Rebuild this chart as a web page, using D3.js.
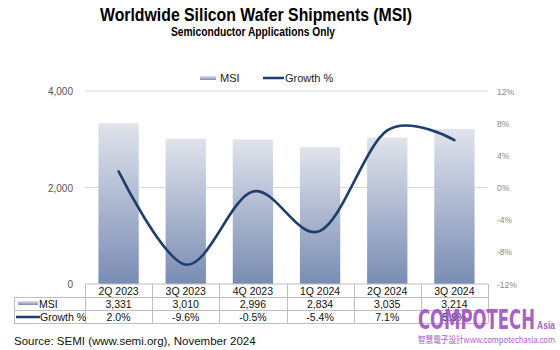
<!DOCTYPE html>
<html><head><meta charset="utf-8">
<script src="https://cdn.jsdelivr.net/npm/d3@7"></script>
<style>body{margin:0;background:#fff}svg{display:block}</style>
</head><body>
<script>
const categories = ["2Q 2023","3Q 2023","4Q 2023","1Q 2024","2Q 2024","3Q 2024"];
const msi = [3331, 3010, 2996, 2834, 3035, 3214];
const growth = [2.0, -9.6, -0.5, -5.4, 7.1, 5.9];
const msiLabels = ["3,331","3,010","2,996","2,834","3,035","3,214"];
const growthLabels = ["2.0%","-9.6%","-0.5%","-5.4%","7.1%","5.9%"];
const leftTicks = [0, 2000, 4000];
const rightTicks = [-12, -8, -4, 0, 4, 8, 12];

const W = 560, H = 350;
const svg = d3.select("body").append("svg").attr("width", W).attr("height", H);
const font = "Arial, 'Liberation Sans', sans-serif";

const x = d3.scaleBand().domain(categories).range([85, 488]).paddingInner(0.4).paddingOuter(0.2);
const xb = d3.scaleBand().domain(categories).range([85, 488]);
const yL = d3.scaleLinear().domain([0, 4000]).range([284, 91]);
const yR = d3.scaleLinear().domain([-12, 12]).range([284, 91]);

// gradient
const defs = svg.append("defs");
const g = defs.append("linearGradient").attr("id","barGrad").attr("x1",0).attr("y1",0).attr("x2",0).attr("y2",1);
g.append("stop").attr("offset","0%").attr("stop-color","#e0e3eb");
g.append("stop").attr("offset","100%").attr("stop-color","#798cb4");

// title
svg.append("text").attr("x",256).attr("y",21).attr("text-anchor","middle")
  .attr("font-family",font).attr("font-weight","bold").attr("font-size",18.5).attr("fill","#000")
  .attr("textLength",312).attr("lengthAdjust","spacingAndGlyphs")
  .text("Worldwide Silicon Wafer Shipments (MSI)");
svg.append("text").attr("x",253).attr("y",36).attr("text-anchor","middle")
  .attr("font-family",font).attr("font-weight","bold").attr("font-size",12).attr("fill","#000")
  .attr("textLength",164).attr("lengthAdjust","spacingAndGlyphs")
  .text("Semiconductor Applications Only");

// legend
svg.append("rect").attr("x",200).attr("y",76).attr("width",16).attr("height",4).attr("fill","url(#barGrad)");
svg.append("text").attr("x",220).attr("y",82).attr("font-family",font).attr("font-size",11).attr("fill","#222").text("MSI");
svg.append("line").attr("x1",263).attr("x2",284).attr("y1",78).attr("y2",78).attr("stroke","#1f3d6d").attr("stroke-width",2.5);
svg.append("text").attr("x",285).attr("y",82).attr("font-family",font).attr("font-size",11).attr("fill","#222").text("Growth %");

// gridlines
svg.append("g").selectAll("line").data(leftTicks.filter(d=>d>0)).join("line")
  .attr("x1",85).attr("x2",488).attr("y1",d=>yL(d)).attr("y2",d=>yL(d))
  .attr("stroke","#d9d9d9").attr("stroke-width",1);

// left axis labels
svg.append("g").selectAll("text").data(leftTicks).join("text")
  .attr("x",73).attr("y",d=>yL(d)+4).attr("text-anchor","end")
  .attr("font-family",font).attr("font-size",10).attr("fill","#555")
  .text(d=>d3.format(",")(d));
// right axis labels
svg.append("g").selectAll("text").data(rightTicks).join("text")
  .attr("x",497).attr("y",d=>yR(d)+3.5).attr("text-anchor","start")
  .attr("font-family",font).attr("font-size",8.5).attr("fill","#888")
  .text(d=>d+"%");

// bars
svg.append("g").selectAll("rect").data(msi).join("rect")
  .attr("x",(d,i)=>x(categories[i])).attr("width",x.bandwidth())
  .attr("y",d=>yL(d)).attr("height",d=>yL(0)-yL(d))
  .attr("fill","url(#barGrad)");

// growth line
const line = d3.line().x((d,i)=>xb(categories[i])+xb.bandwidth()/2).y(d=>yR(d)).curve(d3.curveCardinal.tension(0));
svg.append("path").datum(growth).attr("d",line).attr("fill","none")
  .attr("stroke","#1f3d6d").attr("stroke-width",2.6).attr("stroke-linecap","round");

// table
const tb = svg.append("g");
const rowY = [284, 297, 310, 323];
const gridC = "#bfbfbf";
tb.append("line").attr("x1",85).attr("x2",488).attr("y1",rowY[0]).attr("y2",rowY[0]).attr("stroke",gridC);
[1,2,3].forEach(r=>tb.append("line").attr("x1",14).attr("x2",488).attr("y1",rowY[r]+0.5).attr("y2",rowY[r]+0.5).attr("stroke",gridC));
tb.append("line").attr("x1",14.5).attr("x2",14.5).attr("y1",rowY[1]).attr("y2",rowY[3]).attr("stroke",gridC);
categories.forEach((c,i)=>{
  const xx = Math.round(xb(c))+0.5;
  tb.append("line").attr("x1",xx).attr("x2",xx).attr("y1",rowY[0]).attr("y2",rowY[3]).attr("stroke",gridC);
});
tb.append("line").attr("x1",488.5).attr("x2",488.5).attr("y1",rowY[0]).attr("y2",rowY[3]).attr("stroke",gridC);
const cx = c => xb(c)+xb.bandwidth()/2;
tb.selectAll(".h").data(categories).join("text").attr("x",d=>cx(d)).attr("y",295)
  .attr("text-anchor","middle").attr("font-family",font).attr("font-size",10.5).attr("fill","#111").text(d=>d);
tb.selectAll(".m").data(msiLabels).join("text").attr("x",(d,i)=>cx(categories[i])).attr("y",308)
  .attr("text-anchor","middle").attr("font-family",font).attr("font-size",10.5).attr("fill","#111").text(d=>d);
tb.selectAll(".g").data(growthLabels).join("text").attr("x",(d,i)=>cx(categories[i])).attr("y",321)
  .attr("text-anchor","middle").attr("font-family",font).attr("font-size",10.5).attr("fill","#111").text(d=>d);
tb.append("rect").attr("x",18).attr("y",301).attr("width",20).attr("height",4).attr("fill","url(#barGrad)");
tb.append("text").attr("x",39).attr("y",308).attr("font-family",font).attr("font-size",10.5).attr("fill","#111").text("MSI");
tb.append("line").attr("x1",16).attr("x2",40).attr("y1",317).attr("y2",317).attr("stroke","#1f3d6d").attr("stroke-width",2.5);
tb.append("text").attr("x",40).attr("y",321).attr("font-family",font).attr("font-size",10.5).attr("fill","#111").text("Growth %");

// source
svg.append("text").attr("x",14).attr("y",345).attr("font-family",font).attr("font-size",11.5).attr("fill","#111")
  .text("Source: SEMI (www.semi.org), November 2024");

// watermark
const wm = svg.append("g").attr("opacity",0.9);
wm.append("text").attr("x",418).attr("y",329).attr("font-family","'Liberation Sans Narrow','DejaVu Sans Condensed',Arial,sans-serif")
  .attr("font-weight","bold").attr("font-size",26).attr("fill","#a24fc4")
  .attr("textLength",117).attr("lengthAdjust","spacingAndGlyphs").text("COMPOTECH");
wm.append("text").attr("x",537).attr("y",329).attr("font-family","'Liberation Sans Narrow',Arial,sans-serif")
  .attr("font-weight","bold").attr("font-size",10).attr("fill","#a24fc4")
  .attr("textLength",18).attr("lengthAdjust","spacingAndGlyphs").text("Asia");
wm.append("text").attr("x",418).attr("y",343).attr("font-family","'Noto Sans CJK TC',sans-serif")
  .attr("font-size",9).attr("fill","#a24fc4")
  .attr("textLength",137).attr("lengthAdjust","spacingAndGlyphs").text("智慧電子設計www.compotechasia.com");
</script>
</body></html>
